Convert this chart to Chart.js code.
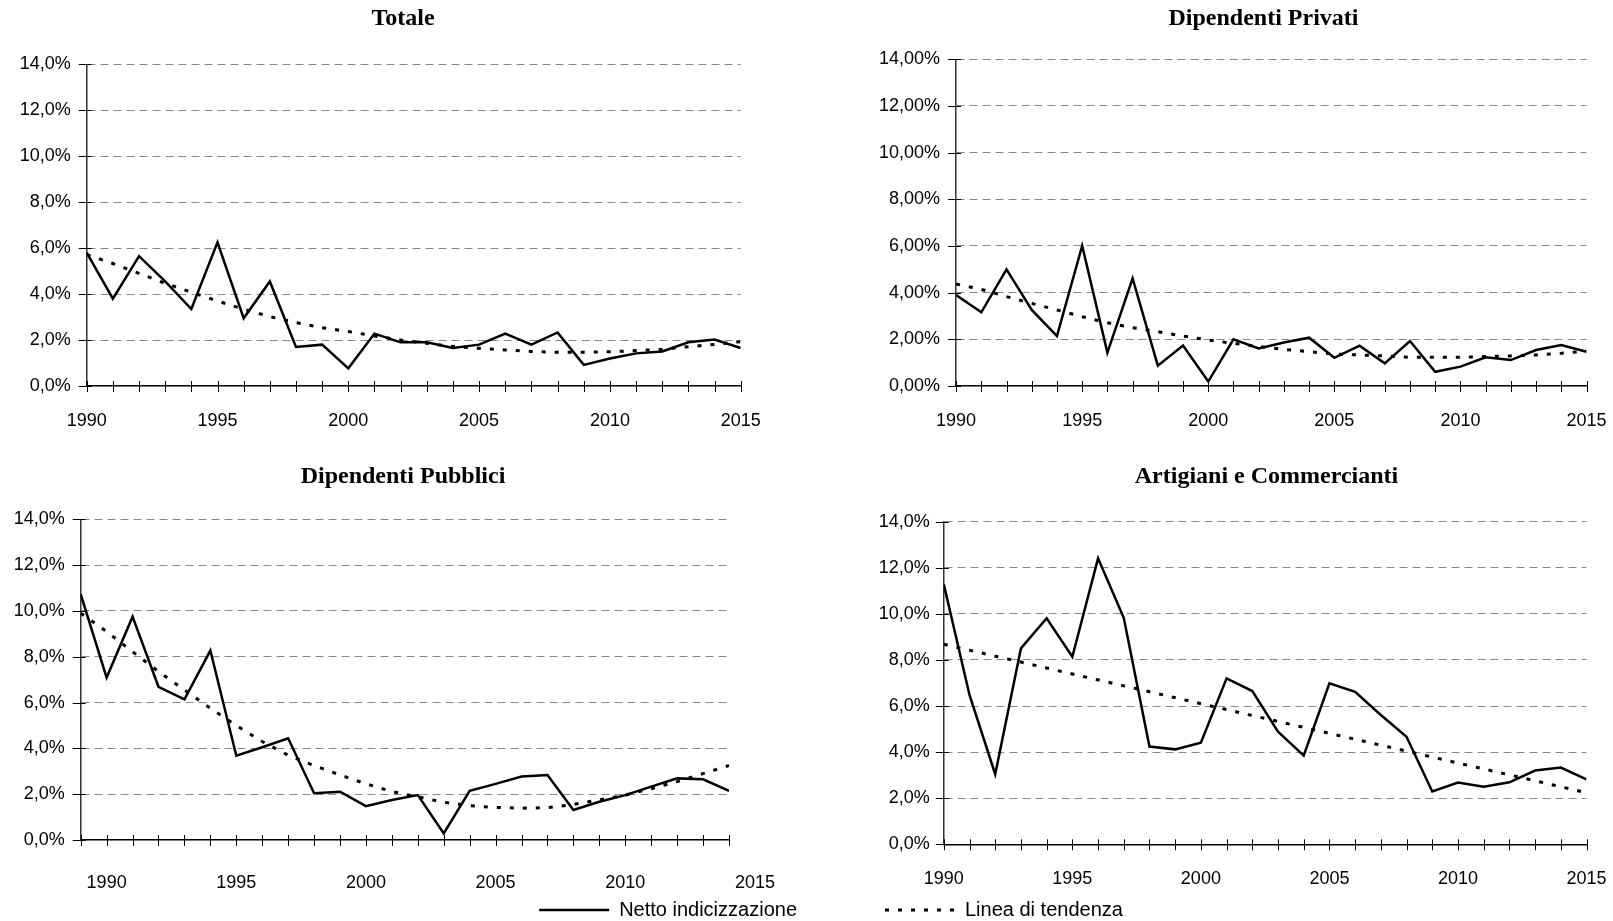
<!DOCTYPE html>
<html lang="it">
<head>
<meta charset="utf-8">
<title>Netto indicizzazione</title>
<script src="https://cdn.jsdelivr.net/npm/chart.js@4.4.1/dist/chart.umd.min.js"></script>
<style>
    html, body { margin: 0; padding: 0; background: #fff; width: 1613px; height: 921px; overflow: hidden; }
    .panel { position: absolute; }
    #pTotale { left: 0; top: 0; width: 806px; height: 440px; }
    #pPrivati { left: 860px; top: 0; width: 807px; height: 440px; }
    #pPubblici { left: 0; top: 440px; width: 806px; height: 490px; }
    #pArtigiani { left: 873px; top: 440px; width: 787px; height: 490px; }
</style>
</head>
<body>
<div class="panel" id="pTotale"><canvas id="cTotale"></canvas></div>
<div class="panel" id="pPrivati"><canvas id="cPrivati"></canvas></div>
<div class="panel" id="pPubblici"><canvas id="cPubblici"></canvas></div>
<div class="panel" id="pArtigiani"><canvas id="cArtigiani"></canvas></div>

<script>
// Years on the x axis
const years = [1990, 1991, 1992, 1993, 1994, 1995, 1996, 1997, 1998, 1999, 2000, 2001, 2002,
    2003, 2004, 2005, 2006, 2007, 2008, 2009, 2010, 2011, 2012, 2013, 2014, 2015];
// the public-employees panel is drawn one year left of the labels
const yearsPubblici = [1989, 1990, 1991, 1992, 1993, 1994, 1995, 1996, 1997, 1998, 1999, 2000, 2001,
    2002, 2003, 2004, 2005, 2006, 2007, 2008, 2009, 2010, 2011, 2012, 2013, 2014];
const xLabelYears = [1990, 1995, 2000, 2005, 2010, 2015];

// Y ticks (percent) and their labels
const yTickValues = [0, 2, 4, 6, 8, 10, 12, 14];
const yLabelsOne = ['0,0%', '2,0%', '4,0%', '6,0%', '8,0%', '10,0%', '12,0%', '14,0%'];
const yLabelsTwo = ['0,00%', '2,00%', '4,00%', '6,00%', '8,00%', '10,00%', '12,00%', '14,00%'];

// Totale
const totaleNetto = [5.8, 3.8, 5.65, 4.55, 3.35, 6.25, 2.95, 4.55, 1.7, 1.8, 0.77, 2.28, 1.9,
    1.9, 1.65, 1.8, 2.28, 1.8, 2.33, 0.92, 1.2, 1.42, 1.5, 1.9, 2.02, 1.65];
const totaleTrend = [5.72, 5.33, 4.9, 4.47, 4.08, 3.7, 3.34, 3.02, 2.76, 2.54, 2.37, 2.18, 2.0,
    1.86, 1.72, 1.64, 1.57, 1.5, 1.47, 1.47, 1.49, 1.54, 1.6, 1.71, 1.81, 1.93];

// Dipendenti Privati
const privatiNetto = [3.9, 3.16, 5.0, 3.26, 2.14, 6.01, 1.43, 4.61, 0.87, 1.73, 0.19, 2.0, 1.61,
    1.86, 2.07, 1.21, 1.73, 0.97, 1.93, 0.61, 0.83, 1.23, 1.11, 1.54, 1.76, 1.47];
const privatiTrend = [4.37, 4.14, 3.83, 3.54, 3.26, 2.97, 2.71, 2.5, 2.33, 2.14, 1.97, 1.83, 1.69,
    1.57, 1.47, 1.37, 1.33, 1.29, 1.23, 1.23, 1.23, 1.26, 1.29, 1.33, 1.4, 1.5];

// Dipendenti Pubblici
const pubbliciNetto = [10.73, 7.09, 9.75, 6.69, 6.14, 8.27, 3.68, 4.05, 4.44, 2.04, 2.11, 1.48, 1.75,
    1.96, 0.29, 2.15, 2.45, 2.77, 2.84, 1.31, 1.67, 1.96, 2.33, 2.69, 2.65, 2.14];
const pubbliciTrend = [9.9, 9.1, 8.22, 7.35, 6.55, 5.75, 5.0, 4.3, 3.7, 3.25, 2.84, 2.45, 2.12,
    1.88, 1.65, 1.5, 1.42, 1.39, 1.41, 1.55, 1.75, 1.96, 2.24, 2.55, 2.9, 3.25];

// Artigiani e Commercianti (straight trend line)
const artigianiNetto = [11.28, 6.48, 3.04, 8.5, 9.81, 8.14, 12.41, 9.83, 4.24, 4.12, 4.41, 7.2, 6.65,
    4.89, 3.85, 6.99, 6.62, 5.61, 4.67, 2.29, 2.68, 2.5, 2.69, 3.2, 3.33, 2.82];
const artigianiTrendYears = [1990, 2015];
const artigianiTrend = [8.68, 2.24];

Chart.defaults.font.family = "'Liberation Sans', Arial, sans-serif";
Chart.defaults.color = '#000';

// Excel style tick marks that cross the axis lines
const crossTicks = {
    id: 'crossTicks',
    afterDraw(chart) {
        const { ctx, chartArea, scales } = chart;
        ctx.save();
        ctx.strokeStyle = '#000';
        ctx.lineWidth = 1;
        ctx.beginPath();
        chart.data.datasets[0].data.forEach(p => {
            const px = Math.round(scales.x.getPixelForValue(p.x)) + 0.5;
            ctx.moveTo(px, chartArea.bottom - 5);
            ctx.lineTo(px, chartArea.bottom + 6);
        });
        scales.y.ticks.forEach(t => {
            const py = Math.round(scales.y.getPixelForValue(t.value)) + 0.5;
            ctx.moveTo(chartArea.left - 8, py);
            ctx.lineTo(chartArea.left + 5, py);
        });
        ctx.stroke();
        ctx.restore();
    }
};

function toPoints(xs, ys) {
    return xs.map((x, i) => ({ x: x, y: ys[i] }));
}

// legend samples drawn as a line with the dataset's own dash
function lineLegendLabels(chart) {
    const items = Chart.defaults.plugins.legend.labels.generateLabels(chart);
    items.forEach(item => {
        const ds = chart.data.datasets[item.datasetIndex];
        item.lineDash = ds.borderDash || [];
        item.lineWidth = ds.borderWidth;
        item.strokeStyle = ds.borderColor;
    });
    return items;
}

function makeChart(canvasId, o) {
    const legend = o.legendIndex === undefined ? { display: false } : {
        display: true,
        position: 'bottom',
        align: o.legendAlign,
        labels: {
            generateLabels: lineLegendLabels,
            filter: item => item.datasetIndex === o.legendIndex,
            usePointStyle: true,
            pointStyle: 'line',
            pointStyleWidth: 70,
            padding: o.legendPad,
            color: '#000',
            font: { size: 20 }
        }
    };

    return new Chart(document.getElementById(canvasId), {
        type: 'line',
        data: {
            datasets: [{
                label: 'Netto indicizzazione',
                data: toPoints(o.xYears, o.netto),
                yAxisID: 'y',
                borderColor: '#000',
                borderWidth: 2.5,
                pointRadius: 0,
                tension: 0
            }, {
                label: 'Linea di tendenza',
                data: toPoints(o.trendYears, o.trend),
                yAxisID: 'y',
                borderColor: '#000',
                borderWidth: 3,
                borderDash: [4, 9],
                pointRadius: 0,
                tension: 0
            }]
        },
        options: {
            responsive: true,
            maintainAspectRatio: false,
            animation: false,
            events: [],
            layout: { padding: 0 },
            plugins: {
                tooltip: { enabled: false },
                legend: legend,
                title: {
                    display: true,
                    text: o.title,
                    color: '#000',
                    font: { family: "'Liberation Serif', 'Times New Roman', serif", size: 24, weight: 'bold' },
                    padding: { top: o.titleTop, bottom: o.titleBottom }
                }
            },
            scales: {
                x: {
                    type: 'linear',
                    min: o.xYears[0],
                    max: o.xYears[o.xYears.length - 1],
                    afterBuildTicks: ax => { ax.ticks = xLabelYears.map(v => ({ value: v })); },
                    afterFit: ax => { ax.height = o.xHeight; },
                    grid: { display: false },
                    border: { display: true, color: '#000', width: 1.5, z: 1 },
                    ticks: {
                        autoSkip: false,
                        maxRotation: 0,
                        padding: o.xPad,
                        font: { size: 18 },
                        callback: v => String(v)
                    }
                },
                y: {
                    type: 'linear',
                    position: 'left',
                    min: 0,
                    max: 14,
                    afterBuildTicks: ax => { ax.ticks = yTickValues.map(v => ({ value: v })); },
                    afterFit: ax => { ax.width = o.yWidth; },
                    grid: {
                        drawTicks: false,
                        lineWidth: 1,
                        borderDash: [8, 5],
                        color: c => (c.tick && c.tick.value === 0) ? 'rgba(0,0,0,0)' : '#8a8a8a'
                    },
                    border: { display: true, color: '#333', width: 1.5, dash: [8, 5] },
                    ticks: {
                        padding: o.yPad,
                        font: { size: 18 },
                        callback: (v, i) => o.yLabels[i]
                    }
                },
                // empty right-hand box, only reserves room right of the plot
                pad: {
                    type: 'linear',
                    position: 'right',
                    display: true,
                    grid: { display: false },
                    border: { display: false },
                    ticks: { display: false },
                    afterFit: ax => { ax.width = o.padWidth; }
                }
            }
        },
        plugins: [crossTicks]
    });
}

makeChart('cTotale', {
    title: 'Totale',
    xYears: years, netto: totaleNetto,
    trendYears: years, trend: totaleTrend,
    yLabels: yLabelsOne,
    titleTop: 4, titleBottom: 31.5,
    yWidth: 86.7, padWidth: 65.3, xHeight: 54, xPad: 16, yPad: 16
});

makeChart('cPrivati', {
    title: 'Dipendenti Privati',
    xYears: years, netto: privatiNetto,
    trendYears: years, trend: privatiTrend,
    yLabels: yLabelsTwo,
    titleTop: 4, titleBottom: 26.5,
    yWidth: 96.1, padWidth: 80.5, xHeight: 54, xPad: 16, yPad: 16
});

makeChart('cPubblici', {
    title: 'Dipendenti Pubblici',
    xYears: yearsPubblici, netto: pubbliciNetto,
    trendYears: yearsPubblici, trend: pubbliciTrend,
    yLabels: yLabelsOne,
    titleTop: 22.3, titleBottom: 28.2,
    yWidth: 80.7, padWidth: 77, xHeight: 51, xPad: 24, yPad: 16,
    legendIndex: 0, legendAlign: 'end', legendPad: 9
});

makeChart('cArtigiani', {
    title: 'Artigiani e Commercianti',
    xYears: years, netto: artigianiNetto,
    trendYears: artigianiTrendYears, trend: artigianiTrend,
    yLabels: yLabelsOne,
    titleTop: 22.3, titleBottom: 30.6,
    yWidth: 70.8, padWidth: 73.5, xHeight: 43.7, xPad: 16, yPad: 14,
    legendIndex: 1, legendAlign: 'start', legendPad: 12
});
</script>
</body>
</html>
